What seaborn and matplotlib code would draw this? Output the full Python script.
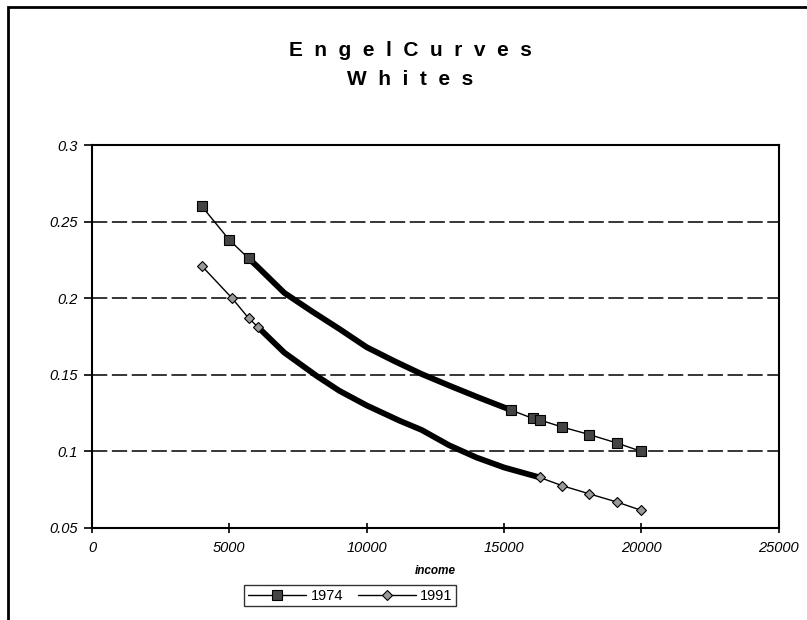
import numpy as np
import pandas as pd
import matplotlib.pyplot as plt
import seaborn as sns
from matplotlib.lines import Line2D
from matplotlib.patches import Rectangle

# points drawn with markers
inc74_head = [4000, 5000, 5700]
sh74_head = [0.260, 0.238, 0.226]
inc74_tail = [15250, 16050, 16300, 17100, 18100, 19100, 20000]
sh74_tail = [0.127, 0.1215, 0.1205, 0.116, 0.111, 0.1055, 0.100]

inc91_head = [4000, 5100, 5700, 6050]
sh91_head = [0.221, 0.200, 0.187, 0.181]
inc91_tail = [16300, 17100, 18100, 19100, 20000]
sh91_tail = [0.083, 0.0777, 0.0723, 0.067, 0.0615]

# dense middle part (drawn as thick line)
inc74_mid = [5700, 6000, 7000, 8000, 9000, 10000, 11000, 12000, 13000, 14100, 15250]
sh74_mid = [0.226, 0.221, 0.2035, 0.1915, 0.180, 0.168, 0.159, 0.1505, 0.143, 0.135, 0.127]
inc91_mid = [6050, 7000, 8200, 9000, 10000, 11200, 12000, 13000, 14000, 15000, 16300]
sh91_mid = [0.181, 0.1645, 0.149, 0.1396, 0.130, 0.120, 0.114, 0.104, 0.096, 0.0895, 0.083]

sns.set_style("white")
plt.rcParams['font.family'] = ['Liberation Sans', 'DejaVu Sans']
plt.rcParams['text.color'] = 'black'
plt.rcParams['xtick.color'] = 'black'
plt.rcParams['ytick.color'] = 'black'
plt.rcParams['axes.labelcolor'] = 'black'

fig = plt.figure(figsize=(8.07, 6.2), dpi=100)
ax = fig.add_axes([0.114, 0.1484, 0.851, 0.6177])

for y in [0.1, 0.15, 0.2, 0.25]:
    ax.axhline(y, color="black", lw=1.1, dashes=(10, 3), zorder=1)

# thick middle parts
sns.lineplot(x=inc74_mid, y=sh74_mid, color="black", lw=4.2, ax=ax, sort=False)
sns.lineplot(x=inc91_mid, y=sh91_mid, color="black", lw=4.2, ax=ax, sort=False)

sq = dict(marker="s", markersize=6.5, markerfacecolor="#444444", markeredgecolor="black",
          markeredgewidth=0.8, color="black", lw=1)
dm = dict(marker="D", markersize=5, markerfacecolor="#999999", markeredgecolor="black",
          markeredgewidth=0.8, color="black", lw=1)
for xs, ys in [(inc74_head, sh74_head), (inc74_tail, sh74_tail)]:
    sns.lineplot(x=xs, y=ys, ax=ax, **sq)
for xs, ys in [(inc91_head, sh91_head), (inc91_tail, sh91_tail)]:
    sns.lineplot(x=xs, y=ys, ax=ax, **dm)

ax.set_xlim(0, 25000)
ax.set_ylim(0.05, 0.3)
ax.set_xticks([0, 5000, 10000, 15000, 20000, 25000])
ax.set_xticklabels(["0", "5000", "10000", "15000", "20000", "25000"])
ax.set_yticks([0.05, 0.1, 0.15, 0.2, 0.25, 0.3])
ax.set_yticklabels(["0.05", "0.1", "0.15", "0.2", "0.25", "0.3"])
ax.tick_params(axis="y", direction="out", length=6, width=1.2, labelsize=10.5, pad=4, left=True)
ax.tick_params(axis="x", direction="inout", length=7, width=1.2, labelsize=10.5, pad=6, bottom=True)
for lab in ax.get_xticklabels() + ax.get_yticklabels():
    lab.set_fontstyle("italic")
for s in ax.spines.values():
    s.set_color("black")
    s.set_linewidth(1.5)

ax.set_xlabel("income", fontsize=8.5, fontstyle="italic", fontweight="bold", labelpad=7)

fig.text(0.508, 0.918, "E  n  g  e  l  C  u  r  v  e  s", ha="center", va="center",
         fontsize=15, fontweight="bold")
fig.text(0.508, 0.871, "W  h  i  t  e  s", ha="center", va="center",
         fontsize=15, fontweight="bold")

handles = [Line2D([], [], **sq), Line2D([], [], **dm)]
fig.legend(handles, ["1974", "1991"], loc="center", bbox_to_anchor=(0.434, 0.039),
           ncol=2, frameon=True, fancybox=False, edgecolor="black", fontsize=10.5,
           handlelength=4, columnspacing=1.0, borderpad=0.25, handletextpad=0.3)
leg = fig.legends[0]
leg.get_frame().set_linewidth(1)

fig.add_artist(Rectangle((8 / 807, -0.5), 1.2, 1.5 - 7 / 620, transform=fig.transFigure,
                         fill=False, edgecolor="black", lw=2))

fig.savefig("out.png", dpi=100)
